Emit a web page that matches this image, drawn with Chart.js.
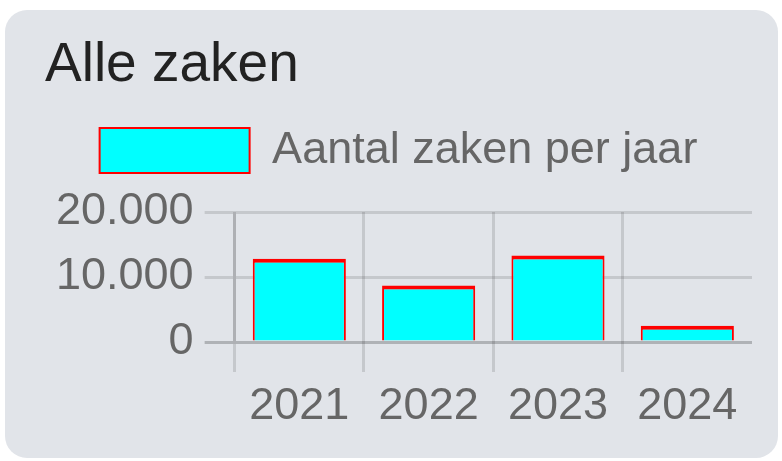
<!DOCTYPE html>
<html>
<head>
<meta charset="utf-8">
<script src="https://cdn.jsdelivr.net/npm/chart.js@4.4.1/dist/chart.umd.min.js"></script>
<style>
  body { margin: 0; background: #fff; width: 782px; height: 461px; overflow: hidden;
         font-family: Arial, "Liberation Sans", sans-serif; }
  .card { position: absolute; left: 5px; top: 10px; width: 773px; height: 448px;
          background: #e1e4e9; border-radius: 22px; }
  .card h2 { position: absolute; left: 40px; top: 25px; margin: 0; font-weight: normal;
             font-size: 55px; line-height: 55px; color: #222; }
  .chart-box { position: absolute; left: 40px; top: 106px; width: 707px; height: 326px; }
</style>
</head>
<body>
<div class="card">
  <h2>Alle zaken</h2>
  <div class="chart-box"><canvas id="myChart"></canvas></div>
</div>
<script>
var years = ['2021', '2022', '2023', '2024'];
var zaken = [12800, 8700, 13300, 2500];
var yTicks = [0, 10000, 20000];

function nlNumber(v) {
  return String(v).replace(/\B(?=(\d{3})+(?!\d))/g, '.');
}

var gridColor = 'rgba(0,0,0,0.12)';

// extra space under the legend
var legendSpacer = {
  id: 'legendSpacer',
  beforeInit: function (chart) {
    var fit = chart.legend.fit;
    chart.legend.fit = function () {
      fit.bind(chart.legend)();
      this.height += 29;
    };
  }
};

var ctx = document.getElementById('myChart').getContext('2d');
var myChart = new Chart(ctx, {
  type: 'bar',
  data: {
    labels: years,
    datasets: [{
      label: 'Aantal zaken per jaar',
      data: zaken,
      backgroundColor: '#00ffff',
      borderColor: '#ff0000',
      borderWidth: { top: 4, left: 2, right: 2, bottom: 0 },
      borderSkipped: 'bottom'
    }]
  },
  plugins: [legendSpacer],
  options: {
    responsive: true,
    maintainAspectRatio: false,
    animation: false,
    font: { family: 'Arial, "Liberation Sans", sans-serif', size: 45 },
    plugins: {
      legend: {
        labels: {
          color: '#666',
          boxWidth: 150,
          boxHeight: 45,
          padding: 12,
          font: { size: 45 }
        }
      },
      tooltip: { enabled: false }
    },
    scales: {
      x: {
        grid: {
          color: function (c) { return c.type === 'tick' ? gridColor : 'transparent'; },
          lineWidth: 3,
          tickLength: 30
        },
        border: { display: false },
        ticks: { color: '#666', padding: 8, font: { size: 45 } }
      },
      y: {
        min: yTicks[0],
        max: yTicks[yTicks.length - 1],
        afterBuildTicks: function (axis) {
          axis.ticks = yTicks.map(function (v) { return { value: v }; });
        },
        grid: {
          color: function (c) { return c.tick && c.tick.value === 0 ? 'rgba(0,0,0,0.22)' : gridColor; },
          lineWidth: 3,
          tickLength: 30
        },
        border: { color: gridColor, width: 3 },
        ticks: {
          color: '#666',
          padding: 11,
          font: { size: 45 },
          callback: function (v) { return nlNumber(v); }
        }
      }
    }
  }
});
</script>
</body>
</html>
